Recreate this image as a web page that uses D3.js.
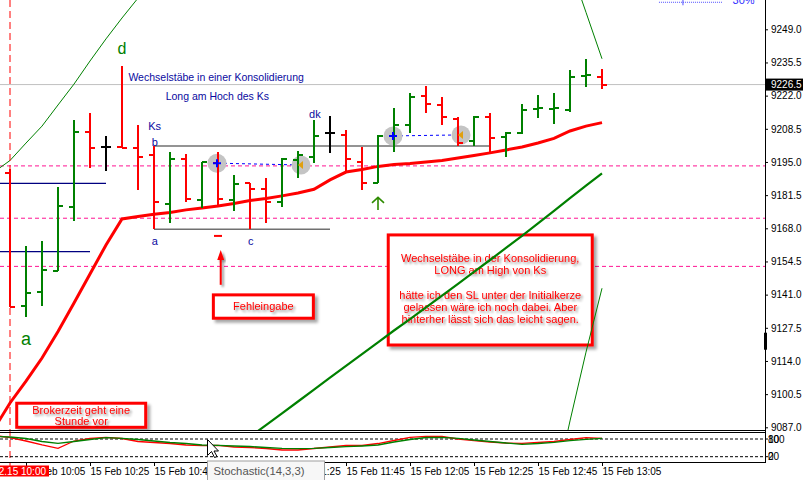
<!DOCTYPE html>
<html>
<head>
<meta charset="utf-8">
<script src="https://cdn.jsdelivr.net/npm/d3@7"></script>
<style>
  body { margin: 0; background: #fff; }
  svg { display: block; font-family: "Liberation Sans", Arial, sans-serif; }
  .axis text { font-size: 10px; fill: #000; }
  .axis .domain { display: none; }
  .axis line { stroke: #000; }
</style>
</head>
<body>
<div id="chart"></div>
<script>
// 5 minute bars, 15 Feb
const times = ["10:00", "10:05", "10:10", "10:15", "10:20", "10:25", "10:30", "10:35", "10:40", "10:45",
  "10:50", "10:55", "11:00", "11:05", "11:10", "11:15", "11:20", "11:25", "11:30", "11:35",
  "11:40", "11:45", "11:50", "11:55", "12:00", "12:05", "12:10", "12:15", "12:20", "12:25",
  "12:30", "12:35", "12:40", "12:45", "12:50", "12:55", "13:00", "13:05"];
const opens = [9190.4, 9136.4, 9142.2, 9150.6, 9176.8, 9207.3, 9201.2, 9201.2, 9200.6, 9197.8,
  9177.8, 9196.2, 9179.5, 9194.5, 9179.5, 9186.3, 9183.9, 9178.8, 9195.8, 9197.1,
  9206.9, 9206.0, 9195.1, 9186.6, 9205.6, 9210.0, 9222.0, 9218.2, 9212.5, 9203.7,
  9213.2, 9205.0, 9206.7, 9216.6, 9216.6, 9216.2, 9230.0, 9229.7];
const highs = [9192.0, 9160.8, 9162.8, 9184.7, 9212.1, 9214.8, 9205.6, 9234.1, 9210.0, 9201.5,
  9198.9, 9198.2, 9194.9, 9198.9, 9189.7, 9186.3, 9188.4, 9196.5, 9199.6, 9212.1,
  9213.7, 9208.0, 9201.2, 9206.0, 9216.8, 9223.0, 9225.9, 9221.3, 9213.2, 9213.8,
  9214.8, 9207.3, 9218.5, 9222.3, 9223.0, 9232.4, 9236.9, 9232.8];
const lows = [9136.1, 9132.0, 9136.4, 9150.6, 9171.0, 9192.4, 9191.4, 9200.6, 9183.6, 9167.6,
  9170.0, 9178.6, 9176.1, 9176.8, 9175.2, 9167.6, 9170.3, 9176.5, 9188.4, 9194.7,
  9198.8, 9190.6, 9183.6, 9186.6, 9199.1, 9206.7, 9214.8, 9210.0, 9201.6, 9201.6,
  9198.2, 9197.1, 9206.3, 9212.8, 9210.3, 9215.5, 9225.4, 9224.6];
const closes = [9136.1, 9141.5, 9151.0, 9177.2, 9207.3, 9200.6, 9201.2, 9200.6, 9197.1, 9178.6,
  9196.2, 9179.8, 9194.9, 9179.8, 9185.9, 9183.9, 9178.8, 9196.2, 9197.8, 9205.4,
  9206.9, 9196.2, 9186.6, 9205.6, 9210.0, 9221.6, 9218.6, 9213.2, 9202.8, 9213.2,
  9204.6, 9206.9, 9216.2, 9216.8, 9217.1, 9229.5, 9230.4, 9226.5];

// moving averages and envelope, each starts at the given bar index
const maRedStart = -1;
const maRed = [9086.3, 9096.9, 9105.8, 9115.2, 9126.0, 9137.6, 9149.4, 9161.2, 9171.8, 9172.8,
  9173.7, 9174.4, 9175.5, 9176.3, 9177.1, 9178.1, 9179.3, 9180.1, 9181.2, 9182.4,
  9183.9, 9187.7, 9190.9, 9191.9, 9193.2, 9194.0, 9194.4, 9195.0, 9195.6, 9196.6,
  9197.6, 9198.7, 9199.9, 9201.1, 9202.7, 9204.6, 9207.6, 9209.6, 9211.0];
const maGreenStart = 15;
const maGreen = [9083.1, 9087.9, 9092.7, 9097.5, 9102.3, 9107.2, 9112.0, 9116.8, 9121.6, 9126.4,
  9131.0, 9135.8, 9140.6, 9145.4, 9150.3, 9155.1, 9160.0, 9164.9, 9170.0, 9175.1,
  9180.3, 9185.4, 9190.4];
const bandUpperLeftStart = -1;
const bandUpperLeft = [9190.9, 9195.6, 9202.7, 9209.6, 9218.2, 9226.7, 9236.1, 9245.1, 9253.6, 9261.7];
const bandUpperRightStart = 35;
const bandUpperRight = [9274.8, 9255.9, 9237.0];
const bandLowerRightStart = 34;
const bandLowerRight = [9059.9, 9089.6, 9117.6, 9143.6];

// Stochastic(14,3,3), starts at bar -1
const stochStart = -1;
const stochMain = [92.2, 84.4, 73.2, 59.7, 48.5, 73.2, 81.7, 85.8, 81.7, 71.5,
  68.1, 64.7, 59.7, 57.3, 58.6, 52.9, 51.2, 47.8, 42.7, 42.7,
  47.8, 52.9, 58.0, 58.0, 64.7, 74.9, 85.8, 89.2, 88.5, 80.0,
  74.2, 69.8, 66.4, 65.4, 68.1, 71.5, 78.3, 84.4, 82.4];
const stochSignal = [88.5, 86.8, 81.7, 71.5, 65.4, 71.5, 78.3, 84.4, 82.4, 78.3,
  73.2, 68.1, 64.7, 59.7, 58.6, 56.3, 54.6, 51.2, 48.5, 47.1,
  48.5, 51.2, 53.9, 56.3, 59.7, 69.8, 78.3, 85.1, 85.8, 82.4,
  76.6, 71.5, 66.4, 62.0, 64.7, 68.8, 74.2, 79.0, 82.4];
const stochLevels = [80, 20];

// axes
const priceTicks = [9087.0, 9100.5, 9114.0, 9127.5, 9141.0, 9154.5, 9168.0, 9181.5, 9195.0, 9208.5, 9222.0, 9235.5, 9249.0];
const timeTickBars = [1, 5, 9, 13, 17, 21, 25, 29, 33, 37];
const lastPrice = 9226.5;

// drawn objects
const pivotLevels = [9193.4, 9172.1, 9152.5];
const navyLevels = [{ price: 9186.3, from: -1, to: 6 }, { price: 9158.5, from: -1, to: 5 }];
const ksLevels = [{ price: 9201.5, from: 9, to: 30 }, { price: 9167.6, from: 9, to: 20 }];
const trades = [
  { openBar: 13, openPrice: 9194.5, closeBar: 18, closePrice: 9193.8 },
  { openBar: 24, openPrice: 9205.6, closeBar: 28, closePrice: 9206.0 },
];
const navyNotes = [
  { text: "Wechselstäbe in einer Konsolidierung", bar: 7.4, price: 9228.0 },
  { text: "Long am Hoch des Ks", bar: 9.73, price: 9220.2 },
];
const navyMarks = [
  { text: "Ks", bar: 8.64, price: 9208.0 },
  { text: "b", bar: 8.86, price: 9201.6 },
  { text: "dk", bar: 18.69, price: 9212.8 },
  { text: "a", bar: 8.86, price: 9161.2 },
  { text: "c", bar: 14.875, price: 9161.2 },
];
const greenMarks = [
  { text: "d", bar: 7, price: 9239.0 },
  { text: "a", bar: 1, price: 9120.5 },
];
const noteBoxes = [
  { lines: ["Wechselstäbe in der Konsolidierung,", "LONG am High von Ks", "", "hätte ich den SL unter der Initialkerze",
      "gelassen wäre ich noch dabei. Aber", "hinterher lässt sich das leicht sagen."],
    bars: [23.64, 36.39], prices: [9165.3, 9120.5] },
  { lines: ["Fehleingabe"], bars: [12.71, 18.96], prices: [9140.9, 9131.4] },
  { lines: ["Brokerzeit geht eine", "Stunde vor"], bars: [0.42, 8.48], prices: [9096.8, 9087.0] },
];
const redArrow = { bar: 13.17, from: 9145.0, to: 9159.2 };
const redMark = { bar: 13, price: 9164.9 };
const greenArrow = { bar: 23, from: 9175.4, to: 9180.6 };
const fibLevel = { price: 9260, from: 40.56, to: 44.56, label: "30%" };

const width = 805, height = 480;
const plotRight = 765, mainBottom = 430, subTop = 433, subBottom = 462;
const GREEN = "#008000", RED = "#ff0000", NAVY = "#0a0aa0";

const x = d3.scaleLinear().domain([0, times.length - 1]).range([10, 602]);
const y = d3.scaleLinear().domain([9087, 9249]).range([427.3, 29.3]);
const yS = d3.scaleLinear().domain([0, 100]).range([462.6, 433.1]);

const svg = d3.select("#chart").append("svg").attr("width", width).attr("height", height);
svg.append("rect").attr("width", width).attr("height", height).attr("fill", "#fff");

const defs = svg.append("defs");
defs.append("clipPath").attr("id", "clip-main").append("rect").attr("width", plotRight).attr("height", mainBottom);
defs.append("clipPath").attr("id", "clip-sub").append("rect").attr("y", subTop).attr("width", plotRight).attr("height", subBottom - subTop);
defs.append("filter").attr("id", "shadow").attr("x", "-10%").attr("y", "-10%").attr("width", "130%").attr("height", "140%")
  .append("feDropShadow").attr("dx", 3).attr("dy", 3).attr("stdDeviation", 1.8)
  .attr("flood-color", "#000").attr("flood-opacity", 0.35);
defs.append("filter").attr("id", "tshadow").attr("x", "-10%").attr("y", "-30%").attr("width", "130%").attr("height", "180%")
  .append("feDropShadow").attr("dx", 2).attr("dy", 2).attr("stdDeviation", 1)
  .attr("flood-color", "#000").attr("flood-opacity", 0.45);

const lineFrom = (start) => d3.line().x((d, i) => x(i + start)).y((d) => y(d));

const gMain = svg.append("g").attr("clip-path", "url(#clip-main)");

// Bid line
gMain.append("line").attr("x1", 0).attr("x2", plotRight)
  .attr("y1", y(lastPrice)).attr("y2", y(lastPrice)).attr("stroke", "#c0c0c0");

// pivot levels
gMain.selectAll(".pivot").data(pivotLevels).join("line").attr("class", "pivot")
  .attr("x1", 0).attr("x2", plotRight).attr("y1", (d) => y(d)).attr("y2", (d) => y(d))
  .attr("stroke", "#ff1493").attr("stroke-dasharray", "4,3");

// navy and grey horizontal segments
gMain.selectAll(".navy").data(navyLevels).join("line").attr("class", "navy")
  .attr("x1", (d) => x(d.from)).attr("x2", (d) => x(d.to))
  .attr("y1", (d) => y(d.price)).attr("y2", (d) => y(d.price))
  .attr("stroke", "#000080").attr("stroke-width", 1.3);
gMain.selectAll(".ks").data(ksLevels).join("line").attr("class", "ks")
  .attr("x1", (d) => x(d.from)).attr("x2", (d) => x(d.to))
  .attr("y1", (d) => y(d.price)).attr("y2", (d) => y(d.price))
  .attr("stroke", "#707070").attr("stroke-width", 1.5);

// trade connection lines
gMain.selectAll(".trade-line").data(trades).join("line").attr("class", "trade-line")
  .attr("x1", (d) => x(d.openBar)).attr("x2", (d) => x(d.closeBar))
  .attr("y1", (d) => y(d.openPrice)).attr("y2", (d) => y(d.closePrice))
  .attr("stroke", "#0000ff").attr("stroke-dasharray", "3,3");

// vertical marker at 10:00
svg.append("line").attr("x1", x(0)).attr("x2", x(0)).attr("y1", 0).attr("y2", 466)
  .attr("stroke", RED).attr("stroke-dasharray", "7,4");

// note boxes
const box = gMain.selectAll(".note").data(noteBoxes).join("g").attr("class", "note");
box.append("rect")
  .attr("x", (d) => x(d.bars[0])).attr("y", (d) => y(d.prices[0]))
  .attr("width", (d) => x(d.bars[1]) - x(d.bars[0]))
  .attr("height", (d) => y(d.prices[1]) - y(d.prices[0]))
  .attr("fill", "#fff").attr("stroke", RED).attr("stroke-width", 3)
  .attr("filter", "url(#shadow)");
box.each(function (d) {
  const cx = (x(d.bars[0]) + x(d.bars[1])) / 2;
  const cy = (y(d.prices[0]) + y(d.prices[1])) / 2;
  const lh = d.lines.length > 2 ? 12.3 : 11;
  const top = d.lines.length > 2 ? y(d.prices[0]) + 23 : cy - ((d.lines.length - 1) * lh) / 2;
  d3.select(this).selectAll("text").data(d.lines).join("text")
    .attr("x", cx).attr("y", (t, i) => top + i * lh).attr("dy", "0.35em")
    .attr("text-anchor", "middle").attr("font-size", 11).attr("fill", RED)
    .attr("filter", "url(#tshadow)").text((t) => t);
});

// arrows
const ra = gMain.append("g").attr("filter", "url(#tshadow)");
ra.append("line").attr("x1", x(redArrow.bar)).attr("x2", x(redArrow.bar))
  .attr("y1", y(redArrow.from)).attr("y2", y(redArrow.to) + 8)
  .attr("stroke", RED).attr("stroke-width", 2);
ra.append("path")
  .attr("d", `M${x(redArrow.bar)},${y(redArrow.to)}l-3.5,10h7z`).attr("fill", RED);
gMain.append("line").attr("x1", x(redMark.bar) - 4).attr("x2", x(redMark.bar) + 4)
  .attr("y1", y(redMark.price)).attr("y2", y(redMark.price))
  .attr("stroke", RED).attr("stroke-width", 2);
gMain.append("path")
  .attr("d", `M${x(greenArrow.bar)},${y(greenArrow.from)}V${y(greenArrow.to)}` +
    `M${x(greenArrow.bar) - 6},${y(greenArrow.to) + 5.5}L${x(greenArrow.bar)},${y(greenArrow.to)}L${x(greenArrow.bar) + 6},${y(greenArrow.to) + 5.5}`)
  .attr("fill", "none").attr("stroke", "#2e8b00").attr("stroke-width", 1.6);

// envelope and moving averages
const bands = [[bandUpperLeft, bandUpperLeftStart], [bandUpperRight, bandUpperRightStart], [bandLowerRight, bandLowerRightStart]];
gMain.selectAll(".band").data(bands).join("path").attr("class", "band")
  .attr("fill", "none").attr("stroke", GREEN).attr("stroke-width", 1)
  .attr("d", (d) => lineFrom(d[1])(d[0]));
gMain.append("path").attr("fill", "none").attr("stroke", GREEN).attr("stroke-width", 2.2)
  .attr("d", lineFrom(maGreenStart)(maGreen));
gMain.append("path").attr("fill", "none").attr("stroke", RED).attr("stroke-width", 3)
  .attr("d", lineFrom(maRedStart)(maRed));

// trade circles
const tradePoints = trades.flatMap((t) => [
  { bar: t.openBar, price: t.openPrice, type: "open" },
  { bar: t.closeBar, price: t.closePrice, type: "close" },
]);
gMain.selectAll(".tp").data(tradePoints).join("circle").attr("class", "tp")
  .attr("cx", (d) => x(d.bar) + (d.type === "close" ? 3 : -1)).attr("cy", (d) => y(d.price))
  .attr("r", 9.5).attr("fill", "#c4c4c4");

// OHLC bars
const bars = times.map((t, i) => ({ i, o: opens[i], h: highs[i], l: lows[i], c: closes[i] }));
gMain.append("g").selectAll("path").data(bars).join("path")
  .attr("fill", "none").attr("stroke-width", 2).attr("shape-rendering", "crispEdges")
  .attr("stroke", (d) => (d.c > d.o ? GREEN : d.c < d.o ? RED : "#000"))
  .attr("d", (d) => {
    const cx = Math.round(x(d.i));
    return `M${cx},${y(d.h)}V${y(d.l)}M${cx - 5},${y(d.o)}H${cx}M${cx},${y(d.c)}H${cx + 5}`;
  });

// trade arrows inside the circles
gMain.selectAll(".tm").data(tradePoints).join("path").attr("class", "tm")
  .attr("transform", (d) => `translate(${x(d.bar) + (d.type === "close" ? 3 : -1)},${y(d.price)})`)
  .attr("d", (d) => (d.type === "open" ? "M-4,0H4M0,-4V4" : "M-3,0L2,-4V4Z"))
  .attr("fill", (d) => (d.type === "open" ? "none" : "#e0a010"))
  .attr("stroke", (d) => (d.type === "open" ? "#0000ff" : "none"))
  .attr("stroke-width", 2);

// chart labels
gMain.selectAll(".navy-note").data(navyNotes).join("text").attr("class", "navy-note")
  .attr("x", (d) => x(d.bar)).attr("y", (d) => y(d.price))
  .attr("font-size", 10.5).attr("fill", NAVY).text((d) => d.text);
gMain.selectAll(".navy-mark").data(navyMarks).join("text").attr("class", "navy-mark")
  .attr("x", (d) => x(d.bar)).attr("y", (d) => y(d.price))
  .attr("font-size", 11).attr("fill", NAVY).text((d) => d.text);
gMain.selectAll(".green-mark").data(greenMarks).join("text").attr("class", "green-mark")
  .attr("x", (d) => x(d.bar)).attr("y", (d) => y(d.price)).attr("text-anchor", "middle")
  .attr("font-size", (d, i) => (i ? 18 : 16)).attr("fill", GREEN).text((d) => d.text);

// fibo level at the top
gMain.append("line").attr("x1", x(fibLevel.from)).attr("x2", x(fibLevel.to))
  .attr("y1", y(fibLevel.price)).attr("y2", y(fibLevel.price))
  .attr("stroke", "#5050ff").attr("stroke-dasharray", "1,1");
gMain.append("line").attr("x1", x(fibLevel.from + 1.5)).attr("x2", x(fibLevel.from + 1.5))
  .attr("y1", 0).attr("y2", y(fibLevel.price) + 3).attr("stroke", "#5050ff");
gMain.append("text").attr("x", x(fibLevel.to + 0.6)).attr("y", y(fibLevel.price) + 1.5)
  .attr("font-size", 11).attr("fill", "#3030ff").text(fibLevel.label);

// stochastic window
const gSub = svg.append("g").attr("clip-path", "url(#clip-sub)");
gSub.selectAll(".lvl").data(stochLevels).join("line").attr("class", "lvl")
  .attr("x1", 0).attr("x2", plotRight).attr("y1", (d) => yS(d)).attr("y2", (d) => yS(d))
  .attr("stroke", "#000").attr("stroke-dasharray", "3,2");
const stochLine = d3.line().x((d, i) => x(i + stochStart)).y((d) => yS(d));
gSub.append("path").attr("fill", "none").attr("stroke", RED).attr("stroke-width", 1.3).attr("d", stochLine(stochMain));
gSub.append("path").attr("fill", "none").attr("stroke", GREEN).attr("stroke-width", 1.3).attr("d", stochLine(stochSignal));

// frames
const frame = svg.append("g").attr("stroke", "#000").attr("shape-rendering", "crispEdges");
[mainBottom, subTop - 1, subBottom].forEach((v) =>
  frame.append("line").attr("x1", 0).attr("x2", plotRight).attr("y1", v + 0.5).attr("y2", v + 0.5));
frame.append("line").attr("x1", plotRight + 0.5).attr("x2", plotRight + 0.5).attr("y1", 0).attr("y2", subBottom + 0.5);
svg.append("rect").attr("x", plotRight - 1).attr("y", y(9125.5)).attr("width", 3).attr("height", 17).attr("fill", "#000");

// price axis
svg.append("g").attr("class", "axis").attr("transform", `translate(${plotRight},0)`)
  .call(d3.axisRight(y).tickValues(priceTicks).tickSize(3).tickPadding(3).tickFormat(d3.format(".1f")));

// last price label
const lp = svg.append("g").attr("transform", `translate(${plotRight + 1},${y(lastPrice)})`);
lp.append("rect").attr("x", 0).attr("y", -6).attr("width", 37).attr("height", 12).attr("fill", "#000");
lp.append("text").attr("x", 5).attr("dy", "0.35em").attr("font-size", 10).attr("fill", "#fff")
  .text(d3.format(".1f")(lastPrice));

// stochastic axis labels (100/80 and 20/0 overlap)
const stochAxis = svg.append("g").attr("class", "axis").attr("transform", `translate(${plotRight},0)`);
stochAxis.selectAll("line").data(stochLevels).join("line")
  .attr("x2", 3).attr("y1", (d) => yS(d)).attr("y2", (d) => yS(d));
stochAxis.selectAll(".lo").data(["100", "0"]).join("text").attr("class", "lo")
  .attr("x", 3).attr("y", (d, i) => yS(stochLevels[i])).attr("dy", "0.35em").attr("fill", "#805000").text((d) => d);
stochAxis.selectAll(".hi").data(stochLevels).join("text").attr("class", "hi")
  .attr("x", 3).attr("y", (d) => yS(d)).attr("dy", "0.35em").text((d) => d);

// time axis
const xAxis = svg.append("g").attr("class", "axis").attr("transform", `translate(0,${subBottom})`)
  .call(d3.axisBottom(x).tickValues(timeTickBars).tickSize(4).tickFormat((i) => "15 Feb " + times[i]));
xAxis.selectAll("text").attr("text-anchor", "start").attr("x", 0).attr("y", 6);

// date flag of the vertical marker
const flag = svg.append("g").attr("transform", `translate(0,${subBottom})`);
flag.append("rect").attr("x", 0).attr("y", 3.5).attr("width", x(0) + 39).attr("height", 11).attr("fill", RED);
flag.append("text").attr("x", x(0) + 36).attr("y", 13).attr("text-anchor", "end")
  .attr("font-size", 10).attr("fill", "#fff").text("02.15 " + times[0]);

// tooltip and mouse pointer
const tip = svg.append("g").attr("transform", "translate(207.5,461)");
tip.append("rect").attr("width", 117).attr("height", 25).attr("fill", "#f7f7f7").attr("stroke", "#a0a0a0");
tip.append("text").attr("x", 6).attr("y", 13.5).attr("font-size", 11.3).attr("fill", "#555").text("Stochastic(14,3,3)");
svg.append("path").attr("transform", "translate(207.5,439.5)")
  .attr("d", "M0,0V16L4,12L7,18L9.5,17L6.5,11.5H11Z").attr("fill", "#fff").attr("stroke", "#000");
</script>
</body>
</html>
